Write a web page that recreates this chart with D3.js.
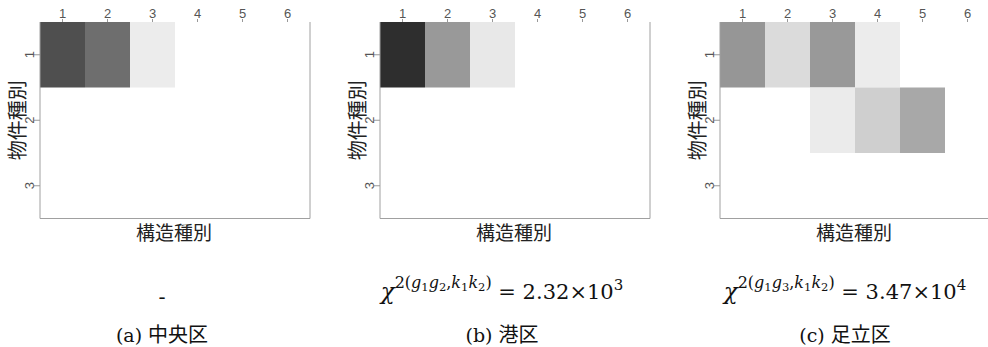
<!DOCTYPE html>
<html>
<head>
<meta charset="utf-8">
<script src="https://cdn.jsdelivr.net/npm/d3@7/dist/d3.min.js"></script>
<style>
  html, body { margin: 0; padding: 0; background: #fff; }
  svg { display: block; }
</style>
</head>
<body>
<svg id="chart" width="988" height="347"></svg>
<script>
// Structure types (columns) and property types (rows)
const structureTypes = [1, 2, 3, 4, 5, 6];
const propertyTypes = [1, 2, 3];

// Share of each (property type, structure type) cell, row by row
const chuoValues = [
  [0.69, 0.57, 0.075, 0, 0, 0],
  [0, 0, 0, 0, 0, 0],
  [0, 0, 0, 0, 0, 0]
];
const minatoValues = [
  [0.82, 0.40, 0.09, 0, 0, 0],
  [0, 0, 0, 0, 0, 0],
  [0, 0, 0, 0, 0, 0]
];
const adachiValues = [
  [0.41, 0.14, 0.40, 0.075, 0, 0],
  [0, 0, 0.08, 0.19, 0.34, 0],
  [0, 0, 0, 0, 0, 0]
];

const panelValues = [chuoValues, minatoValues, adachiValues];
const captionLetters = ["(a)", "(b)", "(c)"];
const wardNames = ["中央区", "港区", "足立区"];
// Chi-square statistic: group pair, mantissa, exponent (none for the first ward)
const chiGroups = [null, ["1", "2"], ["1", "3"]];
const chiMantissa = [null, "2.32", "3.47"];
const chiExponent = [null, "3", "4"];

const xTitle = "構造種別";
const yTitle = "物件種別";

const svg = d3.select("#chart");
const panelLeft = [40, 380, 720];
const captionCenter = [162, 502, 845];
const plotTop = 22, plotW = 270, plotH = 196.5;

const shade = d3.scaleLinear().domain([0, 1]).range(["#ffffff", "#000000"]);
const x = d3.scaleBand().domain(structureTypes).range([0, plotW]);
const y = d3.scaleBand().domain(propertyTypes).range([0, plotH]);

const tickFont = "'Liberation Sans', Arial, sans-serif";
const cjkFont = "'Noto Sans CJK JP', sans-serif";
const serifFont = "'DejaVu Serif', 'Liberation Serif', serif";

panelValues.forEach((vals, p) => {
  const g = svg.append("g").attr("transform", `translate(${panelLeft[p]},${plotTop})`);

  // cells
  const cells = [];
  vals.forEach((row, r) => row.forEach((v, c) => cells.push({ r: propertyTypes[r], c: structureTypes[c], v })));
  g.selectAll("rect.cell").data(cells.filter(d => d.v > 0)).join("rect")
    .attr("class", "cell")
    .attr("x", d => x(d.c))
    .attr("y", d => y(d.r))
    .attr("width", x.bandwidth())
    .attr("height", y.bandwidth())
    .attr("fill", d => shade(d.v));

  // frame: left, bottom, right
  const frame = d3.path();
  frame.moveTo(0, 0); frame.lineTo(0, plotH); frame.lineTo(plotW, plotH); frame.lineTo(plotW, 0);
  g.append("path").attr("d", frame.toString()).attr("fill", "none")
    .attr("stroke", "#a0a0a0").attr("stroke-width", 1);

  // top axis
  const top = g.append("g").call(d3.axisTop(x).tickSize(3).tickPadding(1.5));
  top.select(".domain").remove();
  top.selectAll(".tick line").attr("stroke", "#999");
  top.selectAll(".tick text").attr("fill", "#555").attr("font-size", 13).attr("font-family", tickFont);

  // left axis, labels parallel to the axis
  const left = g.append("g").call(d3.axisLeft(y).tickSize(6).tickPadding(4));
  left.select(".domain").remove();
  left.selectAll(".tick line").attr("stroke", "#999");
  left.selectAll(".tick text")
    .attr("fill", "#555").attr("font-size", 13).attr("font-family", tickFont)
    .attr("x", null)
    .attr("text-anchor", "middle")
    .attr("transform", "translate(-11,0) rotate(-90)")
    .attr("dy", "0.35em");

  // axis titles
  g.append("text")
    .attr("x", plotW / 2 - 1).attr("y", plotH + 21)
    .attr("text-anchor", "middle")
    .attr("font-family", cjkFont).attr("font-size", 19).attr("fill", "#222")
    .text(xTitle);
  g.append("text")
    .attr("transform", `translate(-22,${plotH / 2}) rotate(-90)`)
    .attr("text-anchor", "middle").attr("dy", "0.35em")
    .attr("font-family", cjkFont).attr("font-size", 20).attr("fill", "#222")
    .text(yTitle);

  // chi-square line
  const cx = captionCenter[p];
  if (chiMantissa[p] === null) {
    svg.append("text").attr("x", cx).attr("y", 304).attr("text-anchor", "middle")
      .attr("font-family", serifFont).attr("font-size", 21).attr("fill", "#111").text("-");
  } else {
    const t = svg.append("text").attr("x", cx).attr("y", 299).attr("text-anchor", "middle")
      .attr("font-family", serifFont).attr("fill", "#111");
    const span = (txt, size, dy, italic) => {
      const s = t.append("tspan").attr("font-size", size).text(txt);
      if (dy) s.attr("dy", dy);
      if (italic) s.attr("font-style", "italic");
      return s;
    };
    const [ga, gb] = chiGroups[p];
    span("χ", 23, 0, true);
    span("2(", 16, -11, false);
    span("g", 16, 0, true);
    span(ga, 11.5, 3, false);
    span("g", 16, -3, true);
    span(gb, 11.5, 3, false);
    span(",", 16, -3, false);
    span("k", 16, 0, true);
    span("1", 11.5, 3, false);
    span("k", 16, -3, true);
    span("2", 11.5, 3, false);
    span(")", 16, -3, false);
    span(" = " + chiMantissa[p] + "×10", 21, 11, false);
    span(chiExponent[p], 15, -9, false);
  }

  // subfigure caption
  const cap = svg.append("text").attr("x", cx).attr("y", 342).attr("text-anchor", "middle")
    .attr("fill", "#111");
  cap.append("tspan").attr("font-family", serifFont).attr("font-size", 19).text(captionLetters[p] + " ");
  cap.append("tspan").attr("font-family", cjkFont).attr("font-size", 20).text(wardNames[p]);
});
</script>
</body>
</html>
